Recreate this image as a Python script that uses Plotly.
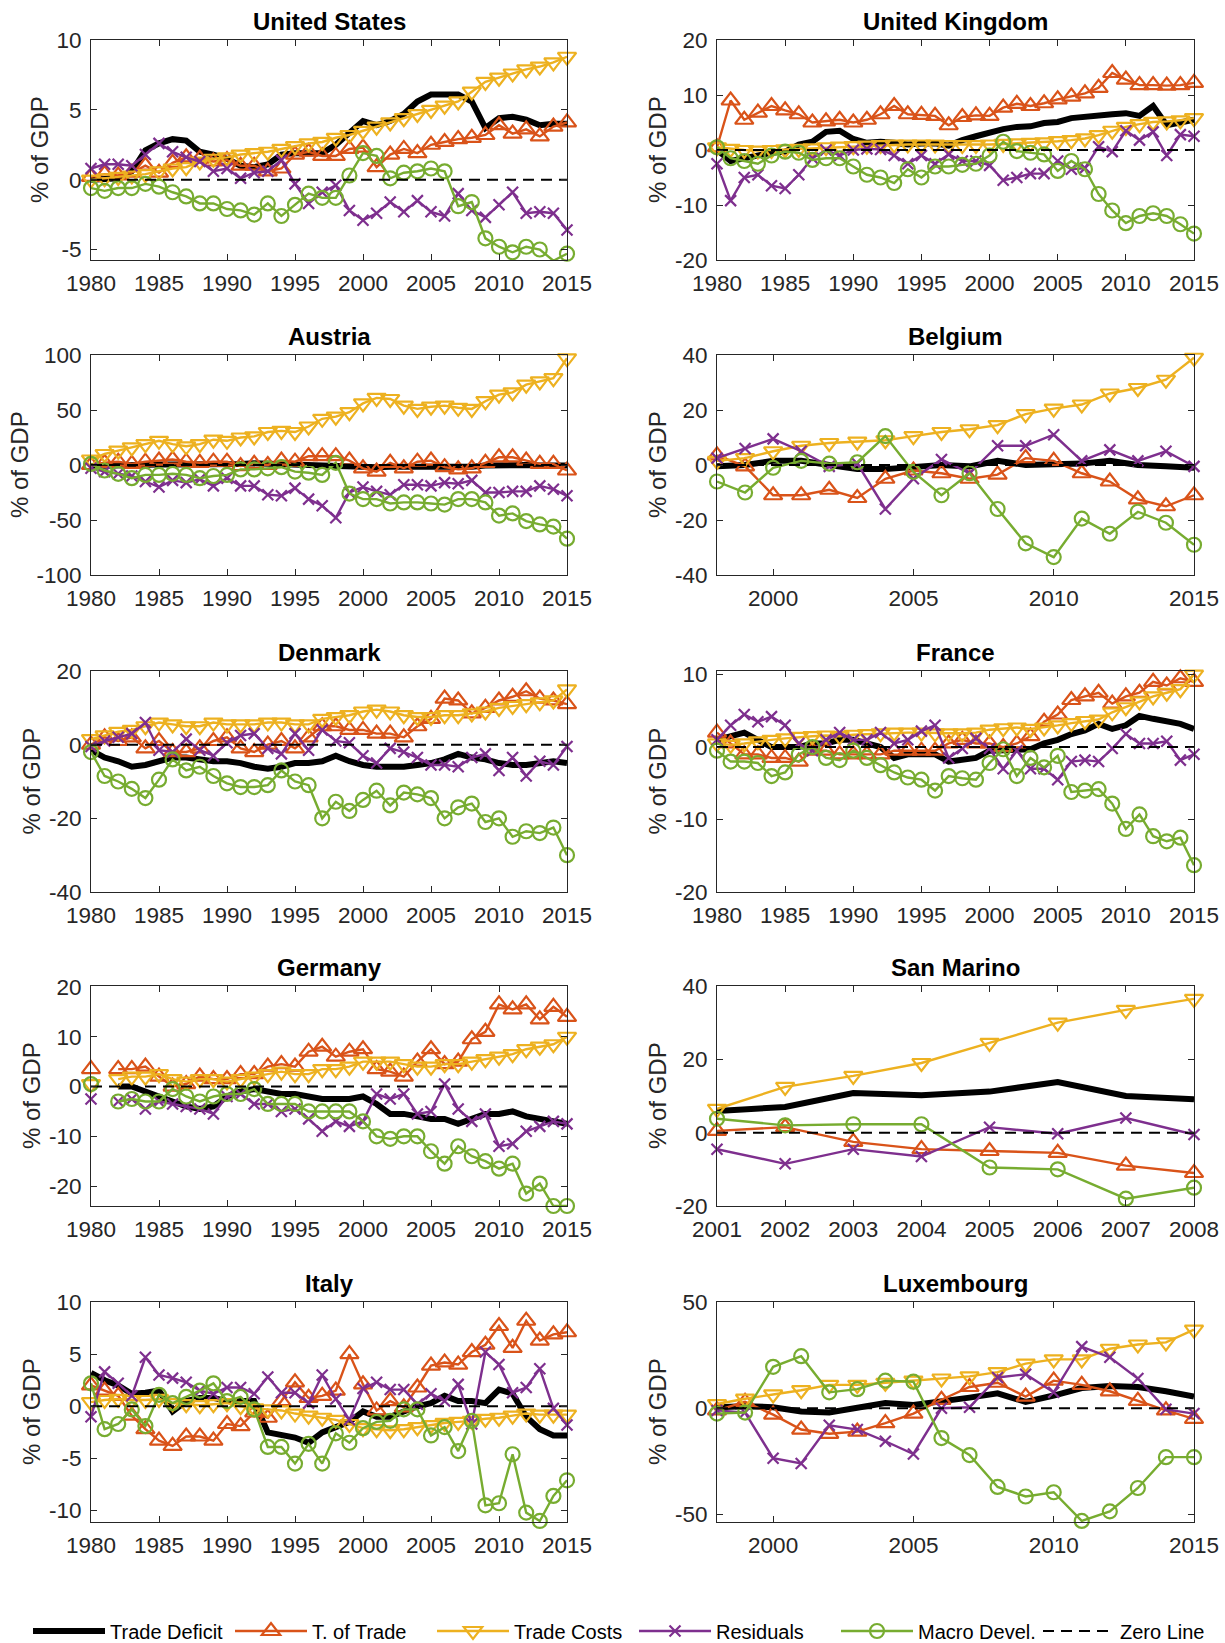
import plotly.graph_objects as go

# ---------------------------------------------------------------- data
YEARS_80_15 = list(range(1980, 2016))
YEARS_98_15 = list(range(1998, 2016))
YEARS_01_08 = list(range(2001, 2009))

SERIES_NAMES = ["Trade Deficit", "T. of Trade", "Trade Costs", "Residuals", "Macro Devel."]
ZERO_NAME = "Zero Line"
ZERO_LEVEL = 0

# United States
US_DEFICIT = [0.0, 0.0, 0.1, 0.6, 2.1, 2.6, 2.9, 2.8, 2.0, 1.8,
              1.5, 1.0, 0.9, 1.1, 1.8, 1.9, 1.9, 1.9, 2.5, 3.3,
              4.2, 3.9, 4.2, 4.7, 5.6, 6.1, 6.1, 6.1, 5.6, 3.7,
              4.4, 4.5, 4.3, 3.9, 4.0, 4.0]
US_TOT = [0.2, 0.4, 0.3, 0.5, 1.0, 0.5, 1.2, 1.6, 1.5, 1.3,
          1.4, 1.0, 1.0, 0.6, 0.8, 1.8, 2.0, 1.7, 1.7, 2.2,
          2.3, 0.9, 1.8, 2.2, 1.9, 2.5, 2.7, 2.9, 3.0, 3.2,
          3.9, 3.3, 3.6, 3.1, 3.8, 4.1]
US_COSTS = [0.0, 0.1, 0.2, 0.3, 0.4, 0.6, 0.8, 0.9, 1.3, 1.5,
            1.6, 1.8, 1.9, 2.0, 2.2, 2.4, 2.6, 2.7, 3.0, 3.2,
            3.5, 3.8, 4.1, 4.4, 4.7, 5.0, 5.3, 5.6, 6.3, 7.0,
            7.3, 7.6, 7.9, 8.1, 8.4, 8.8]
US_RESID = [0.8, 1.1, 1.1, 1.0, 1.8, 2.6, 2.0, 1.6, 1.3, 0.6,
            0.8, 0.1, 0.5, 0.6, 1.4, -0.3, -1.7, -0.9, -0.4, -2.2,
            -2.9, -2.4, -1.6, -2.3, -1.5, -2.3, -2.6, -1.0, -2.2, -2.7,
            -1.8, -0.9, -2.4, -2.3, -2.4, -3.6]
US_MACRO = [-0.6, -0.8, -0.6, -0.6, -0.3, -0.5, -0.9, -1.2, -1.7, -1.7,
            -2.1, -2.2, -2.5, -1.7, -2.6, -1.8, -1.0, -1.3, -1.3, 0.3,
            1.9, 1.7, 0.1, 0.5, 0.6, 0.8, 0.6, -1.9, -1.6, -4.2,
            -4.8, -5.2, -4.8, -5.0, -5.8, -5.3]

# United Kingdom
UK_DEFICIT = [0.0, -2.0, -1.5, -1.0, -0.5, -0.3, 1.0, 1.5, 3.3, 3.5,
              2.0, 1.3, 1.5, 1.3, 1.0, 1.2, 1.2, 0.8, 1.8, 2.5,
              3.2, 3.8, 4.2, 4.3, 4.9, 5.1, 5.8, 6.1, 6.3, 6.5,
              6.7, 6.2, 8.0, 4.5, 5.0, 5.5]
UK_TOT = [0.5, 9.0, 5.5, 6.8, 8.0, 7.2, 6.5, 5.0, 5.2, 5.5,
          5.0, 5.5, 6.5, 8.0, 6.5, 6.4, 6.2, 4.5, 6.0, 6.3,
          6.2, 7.7, 8.4, 8.0, 8.5, 9.2, 9.7, 10.3, 11.3, 14.0,
          12.8, 11.8, 11.8, 11.7, 11.8, 12.2]
UK_COSTS = [0.5, 0.2, 0.0, -0.1, 0.0, 0.1, 0.2, 0.3, 0.5, 0.6,
            0.7, 0.8, 0.9, 1.0, 1.0, 1.0, 1.0, 0.9, 0.9, 0.9,
            1.0, 1.1, 1.2, 1.3, 1.4, 1.6, 1.8, 2.1, 2.7, 3.5,
            4.2, 4.7, 5.1, 5.2, 5.4, 5.8]
UK_RESID = [-2.5, -9.2, -5.0, -4.5, -6.5, -7.0, -4.5, -1.5, 0.0, -1.0,
            0.0, 0.2, 0.1, -1.0, -2.5, -1.0, -2.5, -0.8, -2.0, -2.0,
            -2.8, -5.5, -5.0, -4.3, -4.3, -2.0, -3.5, -3.3, 0.6, -0.3,
            3.5, 1.8, 3.3, -1.0, 2.8, 2.5]
UK_MACRO = [0.5, -1.5, -2.0, -2.5, -1.0, -0.3, -0.5, -1.8, -1.5, -1.5,
            -3.0, -4.5, -5.0, -6.0, -3.5, -5.0, -3.0, -3.0, -2.7, -2.5,
            -1.0, 1.5, -0.2, -0.5, -0.8, -3.8, -2.0, -3.5, -8.0, -11.0,
            -13.3, -12.0, -11.5, -12.0, -13.5, -15.2]

# Austria
AT_DEFICIT = [-1.0, -0.5, -0.5, 0.0, 0.5, 0.5, 0.5, 0.5, 0.0, 0.5,
              0.5, 1.0, 1.5, 1.0, 0.5, 0.5, 0.0, -0.5, -1.0, -1.5,
              -2.0, -2.0, -1.5, -1.5, -1.0, -1.5, -2.0, -2.0, -1.5, -0.5,
              0.0, 0.5, 0.0, -0.5, -0.5, -0.5]
AT_TOT = [0, 2, 3, 1, 3, 4, 5, 3, 2, 3,
          3, -1, 1, 0, 4, 3, 8, 8, 8, 4,
          -3, -6, 2, -3, 3, 4, -2, -4, -3, 2,
          7, 7, 4, 1, 1, -5]
AT_COSTS = [5, 10, 13, 16, 19, 22, 19, 17, 19, 23,
            22, 25, 26, 30, 31, 30, 35, 42, 44, 48,
            56, 61, 60, 54, 51, 53, 54, 52, 51, 58,
            64, 66, 73, 76, 79, 97]
AT_RESID = [-3, -6, -8, -10, -15, -20, -14, -16, -13, -19,
            -12, -19, -19, -27, -28, -21, -31, -37, -48, -25,
            -20, -24, -27, -18, -18, -19, -16, -17, -14, -25,
            -25, -24, -24, -19, -22, -28]
AT_MACRO = [1, -5, -8, -12, -9, -9, -8, -9, -12, -10,
            -9, -4, -4, -3, -2, -6, -7, -9, 2, -26,
            -31, -31, -35, -34, -34, -35, -36, -31, -31, -34,
            -46, -44, -51, -54, -56, -67]

# Belgium (1998-2015)
BE_DEFICIT = [-0.5, 0.0, 1.5, 1.5, 0.0, -1.5, -1.5, -0.5, 0.0, -0.5,
              1.5, 0.0, 0.0, 0.5, 1.5, 0.0, -0.5, -1.0]
BE_TOT = [3.5, -0.5, -11, -11, -9, -12, -5, -2, -3, -5,
          -3.5, 2.5, 1.5, -3, -6, -12.5, -15, -11]
BE_COSTS = [1.5, 2.5, 5, 7, 8, 8.5, 9, 10.5, 12, 13,
            14.5, 18.5, 20.5, 22, 26, 28, 31, 39]
BE_RESID = [2.5, 6, 9.5, 5, -0.5, 0.5, -16, -5, 2, -3,
            7, 7, 11, 1.5, 5.5, 1.5, 5, -0.5]
BE_MACRO = [-6, -10, -1, 1.5, 0.5, 1, 10.5, -2.5, -11, -3,
            -16, -28.5, -33.5, -19.5, -25, -17, -21, -29]

# Denmark
DK_DEFICIT = [-1.5, -3.5, -4.5, -6.0, -5.5, -4.5, -3.5, -3.5, -4.0, -4.5,
              -4.5, -5.0, -6.0, -6.5, -6.0, -5.0, -5.0, -4.5, -3.0, -4.5,
              -5.5, -6.0, -6.0, -6.0, -5.5, -5.0, -4.0, -2.5, -3.5, -4.0,
              -5.0, -5.5, -5.5, -5.0, -4.5, -5.0]
DK_TOT = [0, 2, 1, 2, -1, 1, -2, -2, -1, 1,
          2, -1, -2, 0, 1, -1, 2, 5, 5, 4,
          4, 3, 3, 2, 5, 7, 12.5, 12, 8.5, 10,
          12, 13, 14.5, 12.5, 12, 11]
DK_COSTS = [1.5, 2.5, 3.5, 4, 5, 6, 5.5, 5, 5, 6,
            5.5, 5.5, 5.5, 6, 6, 5.5, 5.5, 7, 7.5, 8,
            9, 9.5, 9, 8, 7.5, 7.5, 8, 8, 8.5, 9,
            10, 10.5, 11, 11.5, 12, 15]
DK_RESID = [-0.5, 1, 2, 3, 6, -1.5, -2, 1.5, -1.5, -3,
            0.5, 2.5, 3, -1, -2.5, 3, -1.5, 4, 1, 0.5,
            -3, -5, -1, -2, -3.5, -5.5, -5.5, -6, -3.5, -2.5,
            -7, -3.5, -8.5, -4.5, -5.5, -0.5]
DK_MACRO = [-2, -8.5, -10, -12, -14.5, -9.5, -4, -7, -6, -8.5,
            -10.5, -11.5, -11.5, -11, -7, -10, -11, -20, -15.5, -18,
            -15, -12.5, -16.5, -13, -13.5, -14.5, -20, -17, -16, -21,
            -20, -25, -23.5, -24, -22.5, -30]

# France
FR_DEFICIT = [1.0, 1.5, 2.0, 1.0, 0.0, 0.0, 0.0, 0.5, 0.5, 1.0,
              1.0, 0.5, 0.0, -1.5, -1.0, -1.0, -1.0, -2.0, -1.7, -1.5,
              -0.5, -0.5, -0.5, -0.3, 0.5, 1.0, 1.8, 2.3, 3.2, 2.5,
              3.0, 4.3, 3.9, 3.5, 3.2, 2.5]
FR_TOT = [2.0, 0.5, -1.0, -1.0, -1.5, -1.5, -2.0, -0.5, -0.5, -1.0,
          -1.0, -1.0, -1.0, -0.5, -0.5, -0.5, -0.5, 0.5, 1.0, 0.5,
          0.5, 0.0, 0.5, 1.5, 3.5, 4.5, 6.5, 7.0, 7.5, 6.0,
          7.0, 7.5, 9.0, 8.5, 9.5, 9.0]
FR_COSTS = [0.5, 0.3, 0.5, 0.8, 1.0, 1.2, 1.4, 1.5, 1.6, 1.5,
            1.7, 1.8, 1.9, 2.0, 2.0, 2.0, 1.9, 1.9, 1.9, 2.0,
            2.4, 2.6, 2.7, 2.5, 2.7, 3.0, 3.3, 3.6, 3.8, 4.8,
            5.5, 6.3, 7.0, 7.5, 8.0, 10.0]
FR_RESID = [1.0, 3.0, 4.5, 3.5, 4.2, 3.0, 0.5, -0.5, 1.0, 2.0,
            1.0, 1.0, 2.0, 0.5, 1.0, 2.2, 3.0, -1.5, -0.2, 1.2,
            -0.2, -3.0, -0.5, -3.0, -3.0, -4.5, -2.0, -1.8, -2.0, -0.2,
            1.8, 0.5, 0.5, 0.8, -1.8, -1.0]
FR_MACRO = [-0.5, -2.0, -2.0, -2.2, -4.0, -3.5, -1.0, 0.0, -1.5, -1.8,
            -0.5, -1.5, -2.5, -3.5, -4.2, -4.5, -6.0, -4.0, -4.3, -4.5,
            -2.2, -0.3, -4.0, -1.5, -2.8, -1.2, -6.2, -6.0, -5.8, -7.8,
            -11.3, -9.3, -12.3, -13.0, -12.5, -16.3]

# Germany (no observation for 1981)
DE_DEFICIT = [None, None, 0.0, 0.0, -1.0, -2.0, -3.0, -4.0, -4.5, -4.0,
              -2.0, -1.0, -0.5, -1.0, -1.5, -1.5, -2.0, -2.5, -2.5, -2.5,
              -2.0, -3.5, -5.5, -5.5, -6.0, -6.5, -6.5, -7.5, -6.5, -5.5,
              -5.5, -5.0, -6.0, -6.5, -7.0, -7.5]
DE_TOT = [3.5, None, 3.5, 3.5, 4.0, 2.0, 0.0, 0.5, 2.0, 1.5,
          1.5, 2.5, 2.5, 4.0, 4.5, 4.0, 7.0, 8.0, 6.0, 7.0,
          7.5, 3.5, 3.0, 2.0, 5.0, 7.5, 4.5, 5.0, 9.5, 11.0,
          16.5, 15.5, 16.5, 13.5, 16.0, 14.0]
DE_COSTS = [0.5, None, 1.5, 2.0, 2.0, 2.5, 1.5, 1.0, 1.5, 1.5,
            1.0, 1.5, 2.0, 2.5, 3.0, 2.5, 2.5, 3.5, 3.5, 4.0,
            5.0, 5.0, 5.0, 4.5, 4.0, 4.0, 4.5, 4.5, 5.0, 5.5,
            6.0, 6.5, 7.5, 8.0, 8.5, 10.0]
DE_RESID = [-2.5, None, -3.0, -2.5, -4.5, -3.0, -3.5, -4.0, -4.5, -5.5,
            -2.0, -1.5, -3.5, -3.5, -5.0, -4.5, -6.5, -9.0, -7.0, -8.0,
            -7.0, -1.5, -2.5, -1.5, -5.5, -5.0, 0.5, -4.5, -7.0, -5.5,
            -12.0, -11.5, -9.0, -8.0, -7.0, -7.5]
DE_MACRO = [0.5, None, -3.0, -2.5, -3.0, -3.0, -0.5, -2.0, -3.0, -2.0,
            -1.5, -1.5, -0.5, -3.5, -3.5, -3.5, -5.0, -5.0, -5.0, -5.0,
            -7.0, -10.0, -10.5, -10.0, -10.0, -13.0, -15.5, -12.0, -14.0, -15.0,
            -16.5, -15.5, -21.5, -19.5, -24.0, -24.0]

# San Marino (2001-2008)
SM_DEFICIT = [5.9, 7.0, 10.8, 10.2, 11.2, 13.8, 10.0, 9.1]
SM_TOT = [0.5, 1.5, -2.5, -4.5, -5.0, -5.5, -9.0, -11.0]
SM_COSTS = [6.5, 12.5, 15.5, 19.0, 24.5, 30.0, 33.5, 36.5]
SM_RESID = [-4.5, -8.5, -4.5, -6.5, 1.5, -0.3, 4.0, -0.5]
SM_MACRO = [3.8, 2.0, 2.3, 2.3, -9.5, -10.0, -18.0, -15.0]

# Italy
IT_DEFICIT = [3.2, 2.5, 2.0, 1.2, 1.3, 1.5, -0.5, 0.5, 0.8, 0.8,
              0.5, 0.5, 0.5, -2.5, -2.8, -3.0, -3.5, -2.5, -2.0, -1.5,
              -0.5, -1.0, -1.0, -0.5, 0.0, 0.3, 1.0, 0.5, 0.5, 0.3,
              1.6, 1.2, -1.0, -2.2, -2.8, -2.8]
IT_TOT = [2.0, 1.5, 1.0, -0.9, -2.2, -3.3, -3.8, -2.9, -2.9, -3.3,
          -1.7, -1.9, -0.6, -1.1, 0.5, 2.3, 0.8, 1.0, 1.5, 5.0,
          2.1, -0.4, 0.5, -0.1, 1.8, 3.9, 4.2, 4.0, 5.2, 5.9,
          7.7, 5.6, 8.2, 6.3, 6.9, 7.1]
IT_COSTS = [0.4, 0.6, 0.7, 0.6, 0.6, 0.7, 0.3, 0.2, 0.1, 0.2,
            0.3, 0.0, -0.2, -0.3, -0.4, -0.7, -0.9, -1.1, -1.3, -1.7,
            -2.1, -2.2, -2.3, -2.2, -2.0, -1.8, -1.6, -1.5, -1.4, -1.2,
            -1.1, -0.9, -0.7, -0.8, -0.8, -0.8]
IT_RESID = [-1.0, 3.3, 2.2, 1.0, 4.7, 3.0, 2.7, 2.3, 1.5, 1.2,
            1.8, 1.8, 1.2, 2.8, 1.3, 1.3, 0.3, 3.0, 0.7, -1.3,
            1.7, 2.3, 1.6, 1.6, 0.2, 1.2, 0.5, 2.1, -1.7, 5.2,
            4.0, 1.3, 1.8, 3.6, -0.2, -1.8]
IT_MACRO = [2.2, -2.2, -1.7, -0.3, -1.9, 1.1, 0.3, 0.9, 1.5, 2.2,
            0.5, 0.9, -0.3, -3.9, -3.9, -5.5, -3.6, -5.5, -2.6, -3.5,
            -2.1, -1.5, -1.4, -0.3, -0.3, -2.8, -2.0, -4.3, -1.4, -9.5,
            -9.3, -4.6, -10.2, -11.0, -8.6, -7.1]

# Luxembourg (1998-2015)
LU_DEFICIT = [0.5, 1.0, 0.5, -1.5, -2.0, 0.0, 2.5, 1.5, 3.0, 5.0,
              7.0, 3.0, 6.0, 9.5, 10.5, 10.0, 8.0, 5.5]
LU_TOT = [-1, 3, -3, -10, -12, -11, -7, -2.5, 4, 10,
          12, 5.5, 13, 11, 8, 3.5, -1, -5]
LU_COSTS = [2, 4.5, 6.5, 8.5, 11, 11, 12, 13, 14, 15,
            17, 21, 23, 23, 28, 30, 31, 37]
LU_RESID = [-1, -2, -23.5, -26, -8, -10, -15.5, -21.5, 0, 0.5,
            14.5, 16, 7.5, 29, 24, 14, -0.5, -2.5]
LU_MACRO = [-2.5, -2, 19.5, 24.5, 7.5, 9, 13, 12.5, -14, -22,
            -37, -41.5, -39.5, -53, -48.5, -37.5, -23, -23]

# axis ticks
XTICKS_80_15 = [1980, 1985, 1990, 1995, 2000, 2005, 2010, 2015]
XTICKS_98_15 = [2000, 2005, 2010, 2015]
XTICKS_01_08 = [2001, 2002, 2003, 2004, 2005, 2006, 2007, 2008]

# ---------------------------------------------------------------- styling
FONT = "Liberation Sans, Arial, Helvetica, sans-serif"
AXIS_GRAY = "#262626"
FIG_W, FIG_H = 1225, 1643

# one style per series: line colour, line width, marker symbol, marker size
STYLES = [
    ("#000000", 6, None, 0),
    ("#D95319", 2.4, "triangle-up-open", 16),
    ("#EDB120", 2.4, "triangle-down-open", 16),
    ("#7E2F8E", 2.4, "x-thin-open", 11),
    ("#77AC30", 2.4, "circle-open", 14),
]

# pixel boxes of the two columns and five rows of plotting areas
COL_PX = [(91, 567), (717, 1194)]
ROW_PX = [(40, 260), (355, 575), (671, 892), (986, 1206), (1302, 1522)]

PANELS = [
    dict(title="United States", x=YEARS_80_15, ys=(US_DEFICIT, US_TOT, US_COSTS, US_RESID, US_MACRO),
         yrange=[-5.75, 10], yticks=[-5, 0, 5, 10], xrange=[1980, 2015], xticks=XTICKS_80_15, gap=52),
    dict(title="United Kingdom", x=YEARS_80_15, ys=(UK_DEFICIT, UK_TOT, UK_COSTS, UK_RESID, UK_MACRO),
         yrange=[-20, 20], yticks=[-20, -10, 0, 10, 20], xrange=[1980, 2015], xticks=XTICKS_80_15, gap=60),
    dict(title="Austria", x=YEARS_80_15, ys=(AT_DEFICIT, AT_TOT, AT_COSTS, AT_RESID, AT_MACRO),
         yrange=[-100, 100], yticks=[-100, -50, 0, 50, 100], xrange=[1980, 2015], xticks=XTICKS_80_15, gap=72),
    dict(title="Belgium", x=YEARS_98_15, ys=(BE_DEFICIT, BE_TOT, BE_COSTS, BE_RESID, BE_MACRO),
         yrange=[-40, 40], yticks=[-40, -20, 0, 20, 40], xrange=[1998, 2015], xticks=XTICKS_98_15, gap=60),
    dict(title="Denmark", x=YEARS_80_15, ys=(DK_DEFICIT, DK_TOT, DK_COSTS, DK_RESID, DK_MACRO),
         yrange=[-40, 20], yticks=[-40, -20, 0, 20], xrange=[1980, 2015], xticks=XTICKS_80_15, gap=60),
    dict(title="France", x=YEARS_80_15, ys=(FR_DEFICIT, FR_TOT, FR_COSTS, FR_RESID, FR_MACRO),
         yrange=[-20, 10.5], yticks=[-20, -10, 0, 10], xrange=[1980, 2015], xticks=XTICKS_80_15, gap=60),
    dict(title="Germany", x=YEARS_80_15, ys=(DE_DEFICIT, DE_TOT, DE_COSTS, DE_RESID, DE_MACRO),
         yrange=[-24, 20.2], yticks=[-20, -10, 0, 10, 20], xrange=[1980, 2015], xticks=XTICKS_80_15, gap=60),
    dict(title="San Marino", x=YEARS_01_08, ys=(SM_DEFICIT, SM_TOT, SM_COSTS, SM_RESID, SM_MACRO),
         yrange=[-20, 40], yticks=[-20, 0, 20, 40], xrange=[2001, 2008], xticks=XTICKS_01_08, gap=60),
    dict(title="Italy", x=YEARS_80_15, ys=(IT_DEFICIT, IT_TOT, IT_COSTS, IT_RESID, IT_MACRO),
         yrange=[-11.1, 10], yticks=[-10, -5, 0, 5, 10], xrange=[1980, 2015], xticks=XTICKS_80_15, gap=60),
    dict(title="Luxembourg", x=YEARS_98_15, ys=(LU_DEFICIT, LU_TOT, LU_COSTS, LU_RESID, LU_MACRO),
         yrange=[-53.5, 50], yticks=[-50, 0, 50], xrange=[1998, 2015], xticks=XTICKS_98_15, gap=60),
]

# ---------------------------------------------------------------- figure
fig = go.Figure()
annotations = []
layout_axes = {}

for i, p in enumerate(PANELS):
    k = i + 1
    row, col = divmod(i, 2)
    x0, x1 = COL_PX[col]
    top, bot = ROW_PX[row]
    xdom = [x0 / FIG_W, x1 / FIG_W]
    ydom = [1 - bot / FIG_H, 1 - top / FIG_H]
    xa = "x" if k == 1 else f"x{k}"
    ya = "y" if k == 1 else f"y{k}"

    for name, yvals, (color, width, symbol, size) in zip(SERIES_NAMES, p["ys"], STYLES):
        tr = dict(
            x=p["x"], y=yvals, name=name, legendgroup=name, showlegend=(k == 1),
            xaxis=xa, yaxis=ya, cliponaxis=False, connectgaps=False,
            line=dict(color=color, width=width), hoverinfo="skip",
        )
        if symbol is None:
            tr["mode"] = "lines"
        else:
            tr["mode"] = "lines+markers"
            tr["marker"] = dict(symbol=symbol, size=size, color=color,
                                line=dict(color=color, width=2.2))
        fig.add_trace(go.Scatter(**tr))

    fig.add_trace(go.Scatter(
        x=p["xrange"], y=[ZERO_LEVEL, ZERO_LEVEL], mode="lines", name=ZERO_NAME,
        legendgroup=ZERO_NAME, showlegend=(k == 1), xaxis=xa, yaxis=ya,
        line=dict(color="#000000", width=2, dash="11px,7px"), hoverinfo="skip",
    ))

    common = dict(
        showline=True, linecolor=AXIS_GRAY, linewidth=1, mirror="allticks",
        ticks="inside", ticklen=6, tickwidth=1, tickcolor=AXIS_GRAY,
        showgrid=False, zeroline=False, fixedrange=True, automargin=False,
        tickfont=dict(family=FONT, size=22.5, color=AXIS_GRAY),
        tickmode="array",
    )
    layout_axes["xaxis" if k == 1 else f"xaxis{k}"] = dict(
        common, domain=xdom, anchor=ya, range=p["xrange"],
        tickvals=p["xticks"], ticktext=[str(v) for v in p["xticks"]],
        ticklabelstandoff=3,
    )
    layout_axes["yaxis" if k == 1 else f"yaxis{k}"] = dict(
        common, domain=ydom, anchor=xa, range=p["yrange"],
        tickvals=p["yticks"], ticktext=[str(v) for v in p["yticks"]],
        ticklabelstandoff=4,
    )

    annotations.append(dict(
        text=f"<b>{p['title']}</b>", xref="paper", yref="paper",
        x=(xdom[0] + xdom[1]) / 2, y=ydom[1], xanchor="center", yanchor="bottom",
        yshift=3, showarrow=False, font=dict(family=FONT, size=24, color="#000000"),
    ))
    annotations.append(dict(
        text="% of GDP", xref="paper", yref="paper", textangle=-90,
        x=xdom[0], y=(ydom[0] + ydom[1]) / 2, xshift=-p["gap"],
        xanchor="center", yanchor="middle", showarrow=False,
        font=dict(family=FONT, size=24, color=AXIS_GRAY),
    ))

fig.update_layout(
    width=FIG_W, height=FIG_H, autosize=False,
    margin=dict(l=0, r=0, t=0, b=0, autoexpand=False),
    paper_bgcolor="white", plot_bgcolor="white",
    font=dict(family=FONT, color="#000000"),
    annotations=annotations,
    legend=dict(
        orientation="h", x=28 / FIG_W, xanchor="left",
        y=1 - 1631 / FIG_H, yanchor="middle",
        font=dict(family=FONT, size=20, color="#000000"),
        itemwidth=72, entrywidth=115, entrywidthmode="pixels",
        bgcolor="rgba(0,0,0,0)", traceorder="normal",
    ),
    **layout_axes,
)

fig.write_html("out.html")
